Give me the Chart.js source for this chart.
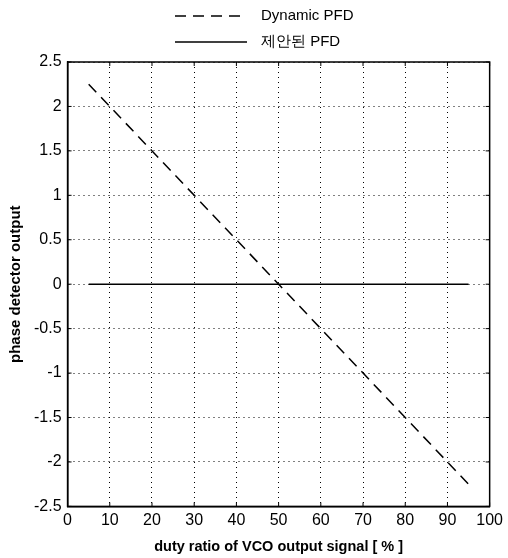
<!DOCTYPE html>
<html>
<head>
<meta charset="utf-8">
<script src="https://cdn.jsdelivr.net/npm/chart.js@4.4.1/dist/chart.umd.min.js"></script>
<style>
  html, body { margin: 0; padding: 0; background: #fff; }
  #wrap { width: 508px; height: 558px; position: relative; }
</style>
</head>
<body>
<div id="wrap"><canvas id="chart"></canvas></div>
<script>
/* ---------- Data ---------- */
const dutyRatio = [5, 50, 95];            // % of VCO output
const dynamicPfd = [2.25, 0, -2.25];
const proposedPfd = [0, 0, 0];
const seriesNames = ["Dynamic PFD", "제안된 PFD"];
const xTicks = [0, 10, 20, 30, 40, 50, 60, 70, 80, 90, 100];
const yTicks = [-2.5, -2, -1.5, -1, -0.5, 0, 0.5, 1, 1.5, 2, 2.5];

const FONT = "'Liberation Sans', Arial, sans-serif";
const toPts = (ys) => dutyRatio.map((x, i) => ({ x, y: ys[i] }));

/* ---------- Plugins: box with inner ticks + two-row legend ---------- */
const boxPlugin = {
  id: "box",
  afterDraw(chart) {
    const { ctx, chartArea: a, scales } = chart;
    ctx.save();
    ctx.strokeStyle = "#000";
    ctx.lineWidth = 1.5;
    ctx.strokeRect(a.left, a.top, a.right - a.left, a.bottom - a.top);
    // MATLAB-like inward tick marks
    ctx.lineWidth = 1;
    ctx.beginPath();
    scales.x.ticks.forEach(t => {
      const px = scales.x.getPixelForValue(t.value);
      ctx.moveTo(px, a.bottom); ctx.lineTo(px, a.bottom - 4);
      ctx.moveTo(px, a.top); ctx.lineTo(px, a.top + 4);
    });
    scales.y.ticks.forEach(t => {
      const py = scales.y.getPixelForValue(t.value);
      ctx.moveTo(a.left, py); ctx.lineTo(a.left + 4, py);
      ctx.moveTo(a.right, py); ctx.lineTo(a.right - 4, py);
    });
    ctx.stroke();
    ctx.restore();
  }
};

const legendPlugin = {
  id: "rowsLegend",
  afterDraw(chart) {
    const ctx = chart.ctx;
    ctx.save();
    chart.data.datasets.forEach((ds, i) => {
      const y = 16 + i * 26;
      ctx.strokeStyle = ds.borderColor;
      ctx.lineWidth = ds.borderWidth;
      ctx.setLineDash(ds.borderDash || []);
      ctx.beginPath();
      ctx.moveTo(175, y);
      ctx.lineTo(247, y);
      ctx.stroke();
      ctx.setLineDash([]);
      ctx.fillStyle = "#000";
      ctx.font = "15px " + FONT;
      ctx.textBaseline = "middle";
      ctx.fillText(ds.label, 261, y);
    });
    ctx.restore();
  }
};

/* ---------- Chart ---------- */
new Chart(document.getElementById("chart"), {
  type: "line",
  data: {
    datasets: [
      { label: seriesNames[0], data: toPts(dynamicPfd), borderColor: "#000", borderWidth: 1.5, borderDash: [11, 7], pointRadius: 0, tension: 0 },
      { label: seriesNames[1], data: toPts(proposedPfd), borderColor: "#000", borderWidth: 1.5, pointRadius: 0, tension: 0 }
    ]
  },
  options: {
    responsive: true,
    maintainAspectRatio: false,
    animation: false,
    layout: { padding: { top: 62, right: 11, left: 7, bottom: 2 } },
    plugins: { legend: { display: false }, tooltip: { enabled: false } },
    scales: {
      x: {
        type: "linear", min: 0, max: 100,
        afterBuildTicks: (s) => { s.ticks = xTicks.map(v => ({ value: v })); },
        grid: { color: "#000", lineWidth: 1, drawTicks: false },
        border: { display: true, color: "#000", width: 1.5, dash: [1, 4] },
        ticks: { color: "#000", padding: 5, font: { family: FONT, size: 16 }, maxRotation: 0, callback: v => String(v) },
        title: { display: true, text: "duty ratio of VCO output signal [ % ]", color: "#000", font: { family: FONT, size: 14.5, weight: "bold" }, padding: { top: 3, bottom: 0 } }
      },
      y: {
        type: "linear", min: -2.5, max: 2.5,
        afterBuildTicks: (s) => { s.ticks = yTicks.map(v => ({ value: v })); },
        grid: { color: "#000", lineWidth: 1, drawTicks: false },
        border: { display: true, color: "#000", width: 1.5, dash: [1, 4] },
        ticks: { color: "#000", padding: 6, font: { family: FONT, size: 16 }, callback: v => String(v) },
        title: { display: true, text: "phase detector output", color: "#000", font: { family: FONT, size: 15, weight: "bold" }, padding: { top: 0, bottom: 3 } }
      }
    }
  },
  plugins: [boxPlugin, legendPlugin]
});
</script>
</body>
</html>
